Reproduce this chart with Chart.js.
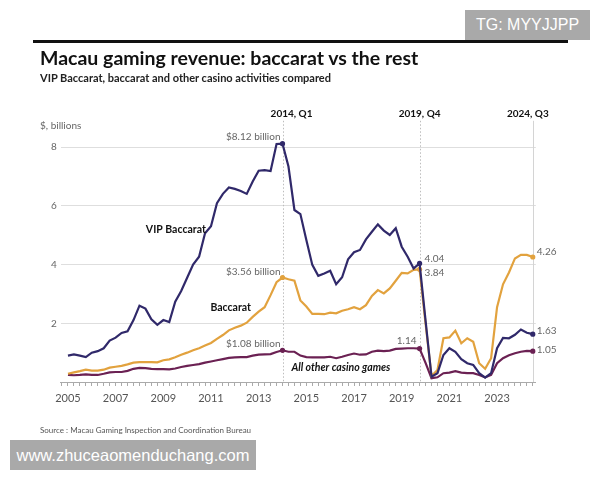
<!DOCTYPE html>
<html lang="en">

<head>
    <meta charset="UTF-8">
    <title>Macau gaming revenue: baccarat vs the rest</title>
    <script src="https://cdn.jsdelivr.net/npm/chart.js@4.4.0/dist/chart.umd.min.js"></script>
    <style>
        body { margin: 0; background: #fff; }
        #wrap { position: relative; width: 600px; height: 480px; overflow: hidden; font-family: Lato, sans-serif; }
        #chart { position: absolute; left: 0; top: 0; }
        .rule { position: absolute; left: 33px; top: 40px; width: 535px; height: 3px; background: #111; }
        .title { position: absolute; left: 40px; top: 46px; font-size: 19.5px; font-weight: 700; color: #111; white-space: nowrap; }
        .subtitle { position: absolute; left: 40px; top: 71px; font-size: 11px; font-weight: 700; color: #222; white-space: nowrap; }
        .source { position: absolute; left: 40px; top: 425px; font-size: 8px; color: #555; white-space: nowrap; }
        .mark { position: absolute; background: #a9a9a9; color: #fff; font-family: "Liberation Sans", Arial, sans-serif; text-align: center; white-space: nowrap; }
    </style>
</head>

<body>
    <div id="wrap">
        <canvas id="chart" width="600" height="480"></canvas>
        <div class="rule"></div>
        <div class="title">Macau gaming revenue: baccarat vs the rest</div>
        <div class="subtitle">VIP Baccarat, baccarat and other casino activities compared</div>
        <div class="source">Source : Macau Gaming Inspection and Coordination Bureau</div>
        <div class="mark" style="left:465px;top:10px;width:125px;height:30px;line-height:30px;font-size:16px;">TG: MYYJJPP</div>
        <div class="mark" style="left:10px;top:440px;width:246px;height:30px;line-height:30px;font-size:16.5px;">www.zhuceaomenduchang.com</div>
    </div>

    <script>
        // quarterly, 2005 Q1 .. 2024 Q3, US$ billions
        const startYear = 2005;
        const yearTicks = ['2005', '2007', '2009', '2011', '2013', '2015', '2017', '2019', '2021', '2023'];
        const markers = ['2014, Q1', '2019, Q4', '2024, Q3'];
        const yTicks = [2, 4, 6, 8];

        const vip = [0.90, 0.94, 0.90, 0.85, 1.00, 1.05, 1.15, 1.41, 1.51, 1.67,
            1.73, 2.11, 2.60, 2.50, 2.14, 1.95, 2.11, 2.04, 2.74, 3.10,
            3.55, 4.00, 4.27, 5.07, 5.31, 6.09, 6.41, 6.63, 6.58, 6.51,
            6.41, 6.83, 7.20, 7.22, 7.19, 8.11, 8.12, 7.34, 5.86, 5.72,
            4.84, 3.99, 3.62, 3.70, 3.79, 3.33, 3.57, 4.18, 4.42, 4.50,
            4.86, 5.12, 5.37, 5.16, 5.01, 5.24, 4.61, 4.27, 3.87, 4.04,
            2.10, 0.18, 0.30, 0.92, 1.15, 1.03, 0.78, 0.64, 0.58, 0.30,
            0.15, 0.30, 1.15, 1.50, 1.49, 1.61, 1.79, 1.68, 1.63];

        const baccarat = [0.28, 0.33, 0.37, 0.42, 0.39, 0.39, 0.42, 0.49, 0.52, 0.55,
            0.60, 0.66, 0.68, 0.68, 0.68, 0.67, 0.74, 0.77, 0.84, 0.93,
            1.00, 1.08, 1.15, 1.24, 1.33, 1.47, 1.60, 1.76, 1.85, 1.92,
            2.02, 2.22, 2.40, 2.55, 2.96, 3.40, 3.56, 3.50, 3.45, 2.78,
            2.57, 2.32, 2.32, 2.31, 2.36, 2.34, 2.43, 2.48, 2.55, 2.48,
            2.62, 2.93, 3.13, 3.02, 3.19, 3.45, 3.72, 3.70, 3.82, 3.84,
            2.00, 0.20, 0.41, 1.49, 1.52, 1.75, 1.32, 1.49, 1.37, 0.64,
            0.45, 0.81, 2.55, 3.33, 3.73, 4.21, 4.33, 4.33, 4.26];

        const others = [0.24, 0.23, 0.24, 0.26, 0.24, 0.24, 0.28, 0.33, 0.34, 0.34,
            0.38, 0.45, 0.48, 0.47, 0.45, 0.44, 0.44, 0.43, 0.46, 0.51,
            0.55, 0.58, 0.61, 0.66, 0.70, 0.74, 0.78, 0.82, 0.84, 0.85,
            0.85, 0.90, 0.93, 0.94, 0.95, 1.02, 1.08, 1.03, 1.03, 0.90,
            0.85, 0.84, 0.84, 0.84, 0.86, 0.81, 0.86, 0.92, 0.97, 0.93,
            0.94, 1.03, 1.07, 1.05, 1.07, 1.13, 1.14, 1.15, 1.15, 1.14,
            0.65, 0.13, 0.16, 0.30, 0.32, 0.37, 0.32, 0.30, 0.30, 0.24,
            0.16, 0.24, 0.64, 0.81, 0.91, 0.98, 1.03, 1.06, 1.05];

        // index of a quarter on the x axis
        function qIdx(year, q) { return (year - startYear) * 4 + (q - 1); }
        const markerIdx = [qIdx(2014, 1), qIdx(2019, 4), qIdx(2024, 3)];
        const dotIdx = markerIdx;

        const toPoints = arr => arr.map((v, i) => ({ x: i, y: v }));
        const dotRadius = ctx => dotIdx.includes(ctx.dataIndex) ? 2.6 : 0;

        const VIP_C = '#30296a';
        const BAC_C = '#e2a23e';
        const OTH_C = '#6b2153';

        Chart.defaults.font.family = 'Lato, sans-serif';

        // dotted quarter markers, value labels and series names
        const notes = {
            id: 'notes',
            beforeDatasetsDraw(chart) {
                const { ctx, scales: { x, y }, chartArea } = chart;
                ctx.save();
                markerIdx.forEach((m, k) => {
                    const px = Math.round(x.getPixelForValue(m)) + 0.5;
                    ctx.strokeStyle = k === 2 ? '#d4d4d4' : '#bdbdbd';
                    ctx.lineWidth = 1;
                    ctx.setLineDash(k === 2 ? [] : [1.5, 2]);
                    ctx.beginPath();
                    ctx.moveTo(px, chartArea.top);
                    ctx.lineTo(px, chartArea.bottom);
                    ctx.stroke();
                });
                ctx.restore();
            },
            afterDatasetsDraw(chart) {
                const { ctx, scales: { x, y } } = chart;
                const px = i => x.getPixelForValue(i);
                const py = v => y.getPixelForValue(v);
                ctx.save();
                ctx.textBaseline = 'middle';

                // markers above the plot
                ctx.font = 'bold 10px Lato, sans-serif';
                ctx.fillStyle = '#111';
                ctx.textAlign = 'center';
                const shift = [9, 0, -5];
                markers.forEach((t, k) => ctx.fillText(t, px(markerIdx[k]) + shift[k], 114));

                ctx.font = '10px Lato, sans-serif';
                ctx.fillStyle = '#666';
                ctx.textAlign = 'left';
                ctx.fillText('$, billions', 40, 126);

                const a = markerIdx[0], b = markerIdx[1], c = markerIdx[2];
                ctx.textAlign = 'right';
                ctx.fillText('$' + vip[a].toFixed(2) + ' billion', px(a) - 2, py(vip[a]) - 7);
                ctx.fillText('$' + baccarat[a].toFixed(2) + ' billion', px(a) - 2, py(baccarat[a]) - 6);
                ctx.fillText('$' + others[a].toFixed(2) + ' billion', px(a) - 2, py(others[a]) - 7);
                ctx.fillText(others[b].toFixed(2), px(b) - 3, py(others[b]) - 8);

                ctx.textAlign = 'left';
                ctx.fillText(vip[b].toFixed(2), px(b) + 5, py(vip[b]) - 5);
                ctx.fillText(baccarat[b].toFixed(2), px(b) + 5, py(baccarat[b]) + 3);
                ctx.fillText(baccarat[c].toFixed(2), px(c) + 4, py(baccarat[c]) - 5);
                ctx.fillText(vip[c].toFixed(2), px(c) + 4, py(vip[c]) - 3);
                ctx.fillText(others[c].toFixed(2), px(c) + 4, py(others[c]) - 1);

                // series names
                ctx.fillStyle = '#111';
                ctx.textAlign = 'center';
                ctx.font = 'bold 10.5px Lato, sans-serif';
                ctx.fillText('VIP Baccarat', px(18.1), py(5.2));
                ctx.fillText('Baccarat', px(27.3), py(2.55));
                ctx.font = 'italic bold 10.5px Lato, sans-serif';
                ctx.fillText('All other casino games', px(45.8), py(0.5));
                ctx.restore();
            }
        };

        const lineStyle = color => ({
            borderColor: color,
            backgroundColor: color,
            borderWidth: 2.2,
            tension: 0,
            fill: false,
            pointRadius: dotRadius,
            pointBorderWidth: 0,
            pointHoverRadius: 0
        });

        const ctx = document.getElementById('chart').getContext('2d');
        const chart = new Chart(ctx, {
            type: 'line',
            data: {
                datasets: [
                    Object.assign({ label: 'VIP Baccarat', data: toPoints(vip) }, lineStyle(VIP_C)),
                    Object.assign({ label: 'Baccarat', data: toPoints(baccarat) }, lineStyle(BAC_C)),
                    Object.assign({ label: 'All other casino games', data: toPoints(others) }, lineStyle(OTH_C))
                ]
            },
            options: {
                responsive: false,
                animation: false,
                layout: { padding: { left: 20, right: 64.2, top: 120.8, bottom: 68 } },
                plugins: { legend: { display: false }, tooltip: { enabled: false } },
                scales: {
                    x: {
                        type: 'linear',
                        min: -1.2,
                        max: 78.5,
                        afterBuildTicks: s => {
                            s.ticks = vip.map((_, i) => ({ value: i })).concat([{ value: -1 }]).sort((p, q) => p.value - q.value);
                        },
                        afterFit: s => { s.height = 30; },
                        grid: { drawOnChartArea: false, drawTicks: true, tickLength: 4, color: '#aaa' },
                        border: { display: true, color: '#aaa' },
                        ticks: {
                            autoSkip: false,
                            maxRotation: 0,
                            padding: 6,
                            color: '#555',
                            font: { size: 11 },
                            callback: v => {
                                const t = yearTicks.find(yr => qIdx(+yr, 1) === v);
                                return t || '';
                            }
                        }
                    },
                    y: {
                        min: 0,
                        max: 8.9,
                        afterBuildTicks: s => { s.ticks = yTicks.map(v => ({ value: v })); },
                        afterFit: s => { s.width = 40.8; },
                        grid: { color: '#dedede', drawTicks: false },
                        border: { display: false },
                        ticks: { padding: 4, color: '#666', font: { size: 10 } }
                    }
                }
            },
            plugins: [notes]
        });
    </script>
</body>

</html>
